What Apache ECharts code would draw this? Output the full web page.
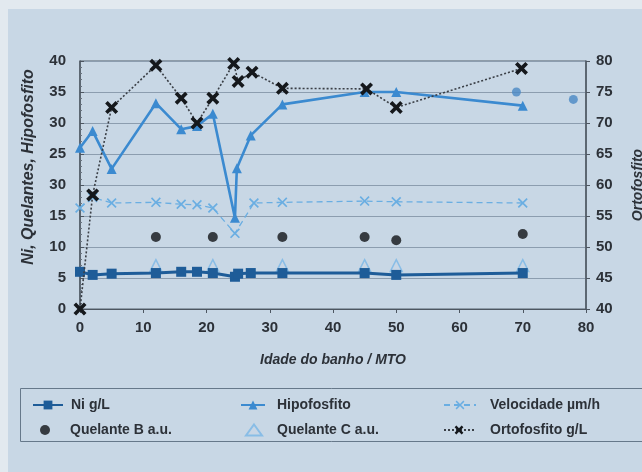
<!DOCTYPE html>
<html>
<head>
<meta charset="utf-8">
<script src="https://cdn.jsdelivr.net/npm/echarts@6/dist/echarts.min.js"></script>
<style>
  html, body { margin: 0; padding: 0; width: 642px; height: 472px; overflow: hidden; }
  #chart {
    position: absolute; left: 0; top: 0; width: 642px; height: 472px;
    background:
      linear-gradient(to right, #e2e9ef 8px, transparent 8px),
      linear-gradient(to bottom, #e2e9ef 9px, #c8d7e5 9px);
  }
</style>
</head>
<body>
<div id="chart"></div>
<script>
// Bath age (MTO) and measured values per series
const niX   = [0, 2, 5, 12, 16, 18.5, 21, 24.5, 25, 27, 32, 45, 50, 70];
const niY   = [6, 5.5, 5.7, 5.8, 6, 6, 5.8, 5.2, 5.7, 5.8, 5.8, 5.8, 5.5, 5.8];

const hipoX = [0, 2, 5, 12, 16, 18.5, 21, 24.5, 24.8, 27, 32, 45, 50, 70];
const hipoY = [26, 28.7, 22.6, 33.2, 29, 29.5, 31.5, 14.7, 22.7, 28, 33, 35, 35, 32.8];

const hipoExtraX = [69, 78];
const hipoExtraY = [35, 33.8];

const velX  = [0, 2, 5, 12, 16, 18.5, 21, 24.5, 27.5, 32, 45, 50, 70];
const velY  = [16.3, 18, 17.1, 17.2, 16.9, 16.8, 16.3, 12.2, 17.1, 17.2, 17.4, 17.3, 17.1];

const quelBX = [12, 21, 32, 45, 50, 70];
const quelBY = [11.6, 11.6, 11.6, 11.6, 11.1, 12.1];

const quelCX = [12, 21, 32, 45, 50, 70];
const quelCY = [7, 7, 7, 7, 7, 7];

const ortoX = [0, 2, 5, 12, 16, 18.5, 21, 24.3, 25, 27.2, 32, 45.3, 50, 69.8];
const ortoY = [40, 58.4, 72.5, 79.3, 74, 70, 74, 79.6, 76.7, 78.2, 75.6, 75.5, 72.5, 78.8];

// Left axis tick labels, as printed
const leftTicks = ['0', '5', '10', '15', '30', '25', '30', '35', '40'];

const pairs = (xs, ys) => xs.map((x, i) => [x, ys[i]]);

const FONT = "'Liberation Sans Narrow', 'Liberation Sans', Arial, sans-serif";
const TXT = '#2c3138';
const crossThin = 'path://M0,1.2L1.2,0L5,3.8L8.8,0L10,1.2L6.2,5L10,8.8L8.8,10L5,6.2L1.2,10L0,8.8L3.8,5Z';
const crossBold = 'path://M0,2L2,0L5,3L8,0L10,2L7,5L10,8L8,10L5,7L2,10L0,8L3,5Z';

const cNi = '#1e5c98', cHipo = '#3b8ad0', cVel = '#6aaee2', cQC = '#79b7e6';

const chart = echarts.init(document.getElementById('chart'));

// One legend block per entry: icon position, icon width, and text start
function legendItem(name, iconLeft, top, w, textX) {
  return {
    data: [name], left: iconLeft, top: top, padding: 0, itemWidth: w, itemHeight: 11,
    textStyle: {
      fontFamily: FONT, fontSize: 14, fontWeight: 'bold', color: TXT,
      padding: [0, 0, 0, Math.max(0, textX - iconLeft - w - 5)]
    }
  };
}

const axisText = { fontFamily: FONT, fontSize: 15, fontWeight: 'bold', color: TXT };
const nameText = { fontFamily: FONT, fontSize: 14, fontStyle: 'italic', fontWeight: 'bold', color: TXT };

chart.setOption({
  animation: false,
  backgroundColor: 'transparent',
  grid: {
    left: 80, right: 56, top: 61, bottom: 163, outerBoundsMode: 'none', containLabel: false,
    show: true, borderColor: '#55606c', borderWidth: 1, backgroundColor: 'transparent'
  },
  xAxis: {
    type: 'value', min: 0, max: 80, interval: 10,
    name: 'Idade do banho / MTO', nameLocation: 'middle', nameGap: 44,
    nameTextStyle: nameText,
    axisLine: { lineStyle: { color: '#4d5661', width: 1 } },
    axisTick: { length: 4, lineStyle: { color: '#4d5661' } },
    axisLabel: Object.assign({ margin: 11 }, axisText),
    splitLine: { show: false }
  },
  yAxis: [{
    type: 'value', min: 0, max: 40, interval: 5, position: 'left',
    name: 'Ni, Quelantes, Hipofosfito', nameLocation: 'middle', nameGap: 43, nameRotate: 90,
    nameTextStyle: Object.assign({}, nameText, { fontSize: 16, padding: [0, 0, 0, 36] }),
    axisLine: { show: true, lineStyle: { color: '#4d5661', width: 1.5 } },
    axisTick: { show: true, inside: true, length: 4, lineStyle: { color: '#4d5661' } },
    minorTick: { show: true, splitNumber: 5, length: 2, lineStyle: { color: '#6a7480' } },
    axisLabel: Object.assign({ margin: 14, formatter: v => leftTicks[Math.round(v / 5)] }, axisText),
    splitLine: { show: true, lineStyle: { color: '#8c9daf', width: 1 } }
  }, {
    type: 'value', min: 40, max: 80, interval: 5, position: 'right',
    name: 'Ortofosfito', nameLocation: 'middle', nameGap: 45, nameRotate: 90,
    nameTextStyle: nameText,
    axisLine: { show: true, lineStyle: { color: '#4d5661', width: 1.5 } },
    axisTick: { show: true, length: 4, lineStyle: { color: '#4d5661' } },
    axisLabel: Object.assign({ margin: 10 }, axisText),
    splitLine: { show: false }
  }],
  legend: [
    legendItem('Ni g/L', 32, 398, 30, 70),
    legendItem('Quelante B a.u.', 40, 423, 10, 70),
    legendItem('Hipofosfito', 240, 398, 24, 276),
    legendItem('Quelante C a.u.', 245, 423, 16, 276),
    legendItem('Velocidade µm/h', 443, 398, 32, 489),
    legendItem('Ortofosfito g/L', 443, 423, 30, 489)
  ],
  graphic: [{
    type: 'rect', left: 20, top: 388,
    shape: { width: 640, height: 53 },
    style: { fill: 'transparent', stroke: '#66788a', lineWidth: 1 }
  }],
  series: [
    {
      name: 'Velocidade µm/h', type: 'line', data: pairs(velX, velY),
      symbol: crossThin, symbolSize: 10,
      lineStyle: { color: cVel, width: 1.3, type: [6, 4] },
      itemStyle: { color: cVel }, z: 2
    },
    {
      name: 'Hipofosfito', type: 'line', data: pairs(hipoX, hipoY),
      symbol: 'triangle', symbolSize: 10,
      lineStyle: { color: cHipo, width: 2.6 },
      itemStyle: { color: cHipo }, z: 3
    },
    {
      name: 'Hipofosfito (adicional)', type: 'scatter', data: pairs(hipoExtraX, hipoExtraY),
      symbol: 'circle', symbolSize: 9,
      itemStyle: { color: '#4a88c4' }, z: 3
    },
    {
      name: 'Quelante B a.u.', type: 'scatter', data: pairs(quelBX, quelBY),
      symbol: 'circle', symbolSize: 10,
      itemStyle: { color: '#111418' }, z: 4
    },
    {
      name: 'Quelante C a.u.', type: 'scatter', data: pairs(quelCX, quelCY),
      symbol: 'triangle', symbolSize: 12,
      itemStyle: { color: 'rgba(200,215,229,0.3)', borderColor: cQC, borderWidth: 1.5 }, z: 4
    },
    {
      name: 'Ni g/L', type: 'line', data: pairs(niX, niY),
      symbol: 'rect', symbolSize: 10,
      lineStyle: { color: cNi, width: 3 },
      itemStyle: { color: cNi }, z: 5
    },
    {
      name: 'Ortofosfito g/L', type: 'line', yAxisIndex: 1, data: pairs(ortoX, ortoY),
      symbol: crossBold, symbolSize: 13,
      lineStyle: { color: '#3a3f46', width: 1.6, type: [2, 2] },
      itemStyle: { color: '#15181c' }, z: 6
    }
  ]
});
</script>
</body>
</html>
